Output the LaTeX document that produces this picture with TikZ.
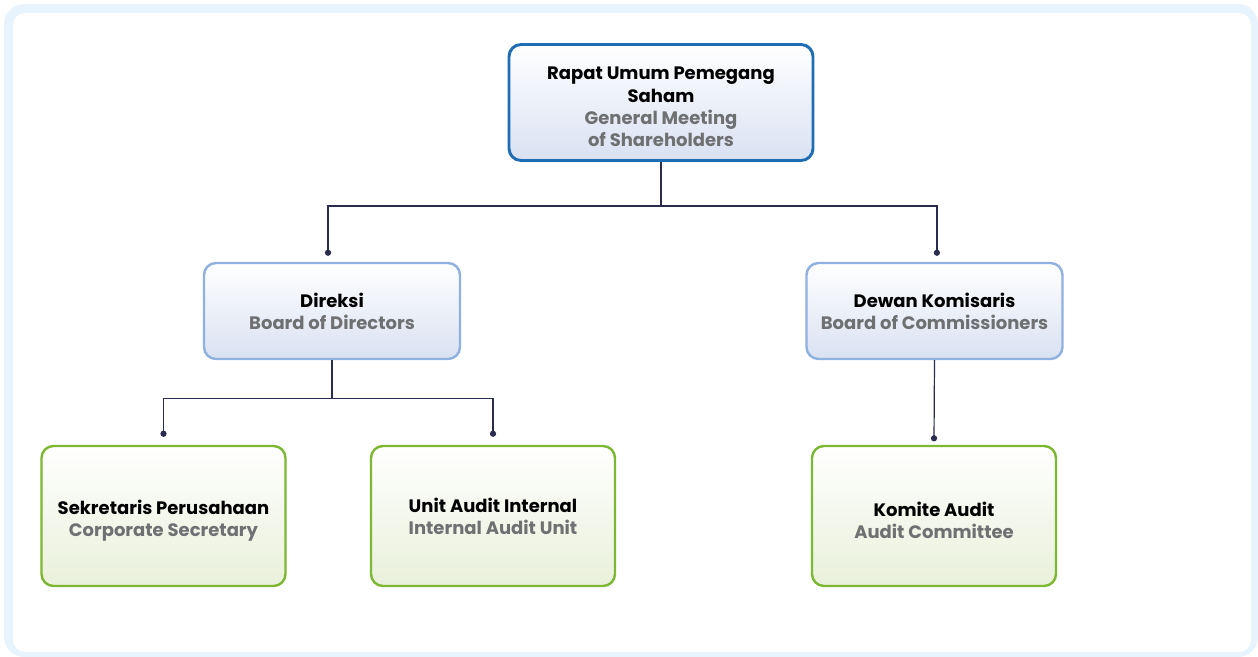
\documentclass[tikz,border=0pt]{standalone}
\usepackage{fontspec}
\setmainfont{Poppins}
\usetikzlibrary{arrows.meta}

\definecolor{linkcol}{HTML}{2A2C4F}
\definecolor{rupsblue}{HTML}{1F6DB4}
\definecolor{boardblue}{HTML}{8FB1DF}
\definecolor{boardfill}{HTML}{D9E1F2}
\definecolor{unitgreen}{HTML}{7CB832}
\definecolor{unitfill}{HTML}{E9F0DA}
\definecolor{subgray}{HTML}{6F7072}
\definecolor{framebg}{HTML}{E8F4FD}

\tikzset{
  box/.style={rounded corners=9pt, inner sep=0pt},
  rupsbox/.style={box, draw=rupsblue, line width=2.2pt, top color=white,
    bottom color=boardfill, minimum width=228pt, minimum height=87pt},
  boardbox/.style={box, draw=boardblue, line width=1.8pt, top color=white,
    bottom color=boardfill, minimum width=192pt, minimum height=72pt},
  unitbox/.style={box, draw=unitgreen, line width=1.8pt, top color=white,
    bottom color=unitfill, minimum width=183pt, minimum height=105pt},
  boxtext/.style={align=center, inner sep=0pt,
    font=\bfseries\fontsize{13.5}{16.7}\selectfont},
  link/.style={draw=linkcol, line width=0.9pt},
  dotend/.style={-{Circle[length=4.6pt]}},
}
\newcommand{\en}[1]{\textcolor{subgray}{#1}}

\begin{document}
\begin{tikzpicture}[x=0.75pt, y=-0.75pt]
  \useasboundingbox (0,0) rectangle (1258,657);
  % frame
  \fill[framebg, rounded corners=15pt] (4,4) rectangle (1258,657);
  \fill[white, rounded corners=9pt] (13,13) rectangle (1251,652);

  % boxes
  \draw
    (661,102.5) node[rupsbox] (rups) {}
    (332,311) node[boardbox] (dir) {}
    (934.5,311) node[boardbox] (kom) {}
    (163.5,516) node[unitbox] (sek) {}
    (493,516) node[unitbox] (uai) {}
    (934,516) node[unitbox] (ka) {};

  % texts
  \node[boxtext] (rupstext) at ([yshift=-3.4pt]rups.center)
    {Rapat Umum Pemegang\\Saham\\\en{General Meeting}\\\en{of Shareholders}};
  \node[boxtext] (dirtext) at (dir.center) {Direksi\\\en{Board of Directors}};
  \node[boxtext] (komtext) at (kom.center) {Dewan Komisaris\\\en{Board of Commissioners}};
  \node[boxtext] (sektext) at ([yshift=-3.6pt]sek.center)
    {Sekretaris Perusahaan\\\en{Corporate Secretary}};
  \node[boxtext] (uaitext) at ([yshift=-0.3pt]uai.center)
    {Unit Audit Internal\\\en{Internal Audit Unit}};
  \node[boxtext] (katext) at ([yshift=-3.2pt]ka.center)
    {Komite Audit\\\en{Audit Committee}};

  \begin{scope}[link]
    \draw (rups.south) -- ++(0,44) coordinate (rupsjoin);
    \draw[dotend] (rupsjoin) -| ([xshift=-3pt,yshift=4.5pt]dir.north);
    \draw[dotend] (rupsjoin) -| ([xshift=1.8pt,yshift=4.5pt]kom.north);
    \draw (dir.south) -- ++(0,38) coordinate (dirjoin);
    \draw[dotend] (dirjoin) -| ([yshift=6pt]sek.north);
    \draw[dotend] (dirjoin) -| ([yshift=6pt]uai.north);
    \draw[dotend] (kom.south) -- ([yshift=2.6pt]ka.north);
  \end{scope}
\end{tikzpicture}
\end{document}
